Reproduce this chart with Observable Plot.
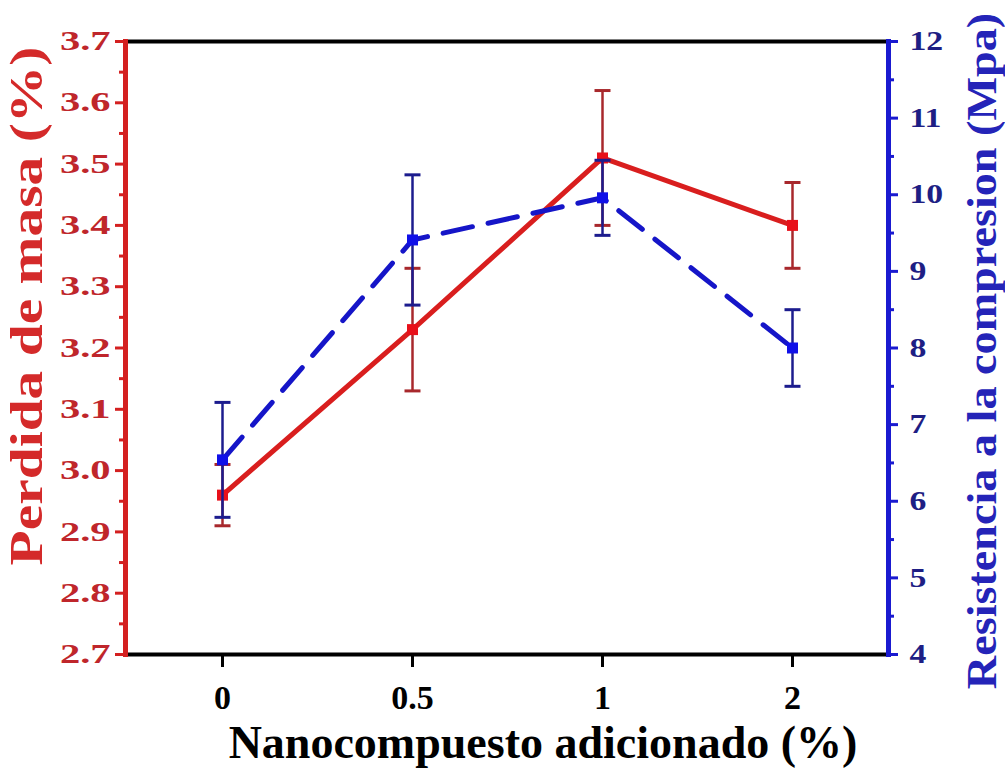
<!DOCTYPE html>
<html><head><meta charset="utf-8">
<script src="https://cdn.jsdelivr.net/npm/d3@7"></script>
<script src="https://cdn.jsdelivr.net/npm/@observablehq/plot@0.6"></script>
<style>
html,body{margin:0;padding:0;background:#fff;}
#chart svg{display:block;overflow:visible;}
</style></head><body><div id="chart"></div>
<script>
// ---- data ----
const categories = ["0", "0.5", "1", "2"];
const massLoss = [2.96, 3.23, 3.51, 3.40];
const massLossErr = [0.05, 0.10, 0.11, 0.07];
const strength = [6.54, 9.41, 9.96, 8.00];
const strengthErr = [0.75, 0.85, 0.49, 0.50];
const leftTicks = [2.7, 2.8, 2.9, 3.0, 3.1, 3.2, 3.3, 3.4, 3.5, 3.6, 3.7];
const rightTicks = [4, 5, 6, 7, 8, 9, 10, 11, 12];
const leftDomain = [2.7, 3.7];
const rightDomain = [4, 12];
const xTitle = "Nanocompuesto adicionado (%)";
const yLeftTitle = "Perdida de masa (%)";
const yRightTitle = "Resistencia a la compresion (Mpa)";

// ---- mapping right axis onto left scale ----
const k = (leftDomain[1] - leftDomain[0]) / (rightDomain[1] - rightDomain[0]);
const toLeft = v => leftDomain[0] + (v - rightDomain[0]) * k;
const fromLeft = v => rightDomain[0] + (v - leftDomain[0]) / k;

const red = categories.map((c, i) => ({c, v: massLoss[i], lo: massLoss[i] - massLossErr[i], hi: massLoss[i] + massLossErr[i]}));
const blue = categories.map((c, i) => ({c, v: toLeft(strength[i]), lo: toLeft(strength[i] - strengthErr[i]), hi: toLeft(strength[i] + strengthErr[i])}));
const minorLeft = leftTicks.slice(1).map((t, i) => (t + leftTicks[i]) / 2);
const minorRight = rightTicks.slice(1).map((t, i) => toLeft((t + rightTicks[i]) / 2));

const RED_AXIS = "#d42020", RED_LABEL = "#bf262b", RED_TITLE = "#d42a2a";
const RED_LINE = "#d91e1e", RED_MARK = "#e8101a", RED_ERR = "#a8282c";
const BLUE_AXIS = "#1a1ad0", BLUE_LABEL = "#1e1e84", BLUE_TITLE = "#2424b8";
const BLUE_LINE = "#1515c8", BLUE_MARK = "#1010e8", BLUE_ERR = "#1c1c8e";

const cap = {draw(ctx, size) { const w = Math.sqrt(size / Math.PI); ctx.moveTo(-w, 0); ctx.lineTo(w, 0); }};

const plot = Plot.plot({
  width: 1005, height: 774,
  marginLeft: 125, marginRight: 117, marginTop: 41, marginBottom: 120,
  style: {fontFamily: "'Liberation Serif','Times New Roman',serif", fontWeight: "bold", background: "white", color: "black"},
  x: {type: "point", domain: categories, padding: 0.5, axis: null, label: null},
  y: {domain: leftDomain, axis: null, label: null},
  marks: [
    Plot.ruleY([leftDomain[0], leftDomain[1]], {stroke: "black", strokeWidth: 4}),
    Plot.frame({anchor: "left", stroke: RED_AXIS, strokeWidth: 5}),
    Plot.frame({anchor: "right", stroke: BLUE_AXIS, strokeWidth: 5}),
    Plot.axisY(leftTicks, {anchor: "left", label: null, tickSize: 10, tickPadding: 5, stroke: RED_AXIS, strokeWidth: 3, color: RED_LABEL, fontSize: 27, tickFormat: d => d.toFixed(1)}),
    Plot.axisY(minorLeft, {anchor: "left", label: null, tickSize: 6, tickPadding: 0, stroke: RED_AXIS, strokeWidth: 3, tickFormat: () => ""}),
    Plot.axisY(rightTicks.map(toLeft), {anchor: "right", label: null, tickSize: 9, tickPadding: 12, stroke: BLUE_AXIS, strokeWidth: 3, color: BLUE_LABEL, fontSize: 27, tickFormat: d => String(Math.round(fromLeft(d)))}),
    Plot.axisY(minorRight, {anchor: "right", label: null, tickSize: 5, tickPadding: 0, stroke: BLUE_AXIS, strokeWidth: 3, tickFormat: () => ""}),
    Plot.axisX(categories, {anchor: "bottom", label: null, tickSize: 13, tickPadding: 17, strokeWidth: 3, fontSize: 34, color: "black"}),

    Plot.line(red, {x: "c", y: "v", stroke: RED_LINE, strokeWidth: 5}),
    Plot.ruleX(red, {x: "c", y1: "lo", y2: "hi", stroke: RED_ERR, strokeWidth: 2.5}),
    Plot.dot(red, {x: "c", y: "lo", symbol: cap, r: 8, fill: "none", stroke: RED_ERR, strokeWidth: 3}),
    Plot.dot(red, {x: "c", y: "hi", symbol: cap, r: 8, fill: "none", stroke: RED_ERR, strokeWidth: 3}),
    Plot.dot(red, {x: "c", y: "v", symbol: "square", r: 6.2, fill: RED_MARK, stroke: "none"}),

    Plot.line(blue, {x: "c", y: "v", stroke: BLUE_LINE, strokeWidth: 5, strokeDasharray: "30,16", strokeLinecap: "round"}),
    Plot.ruleX(blue, {x: "c", y1: "lo", y2: "hi", stroke: BLUE_ERR, strokeWidth: 2.5}),
    Plot.dot(blue, {x: "c", y: "lo", symbol: cap, r: 8, fill: "none", stroke: BLUE_ERR, strokeWidth: 3}),
    Plot.dot(blue, {x: "c", y: "hi", symbol: cap, r: 8, fill: "none", stroke: BLUE_ERR, strokeWidth: 3}),
    Plot.dot(blue, {x: "c", y: "v", symbol: "square", r: 6.2, fill: BLUE_MARK, stroke: "none"}),

    Plot.text([xTitle], {text: d => d, frameAnchor: "bottom", textAnchor: "middle", dx: 36, dy: 103, fontSize: 46, fill: "black"}),
    Plot.text([yLeftTitle], {text: d => d, frameAnchor: "left", textAnchor: "middle", rotate: -90, dx: -98, dy: -42, fontSize: 46, fill: RED_TITLE}),
    Plot.text([yRightTitle], {text: d => d, frameAnchor: "right", textAnchor: "middle", rotate: -90, dx: 94, dy: 3, fontSize: 42, fill: BLUE_TITLE})
  ]
});

function stretch(el, sx) {
  let t = el.getAttribute("transform");
  if (!t) {
    const x = el.getAttribute("x") || 0, y = el.getAttribute("y") || 0;
    el.setAttribute("x", 0); el.setAttribute("y", 0);
    t = `translate(${x},${y})`;
  }
  el.setAttribute("transform", t + ` scale(${sx},1)`);
}
const yLabelGroups = plot.querySelectorAll('g[aria-label="y-axis tick label"]');
yLabelGroups.forEach(g => {
  const texts = g.querySelectorAll("text");
  const isRight = g.getAttribute("text-anchor") === "start" || [...texts].some(t => t.getAttribute("text-anchor") === "start");
  texts.forEach(el => stretch(el, isRight ? 1.25 : 1.5));
});
plot.querySelectorAll('text').forEach(el => {
  if (el.textContent === yLeftTitle) stretch(el, 1.25);
  if (el.textContent === yRightTitle) stretch(el, 1.1);
});
document.getElementById("chart").appendChild(plot);
</script>
</body></html>
